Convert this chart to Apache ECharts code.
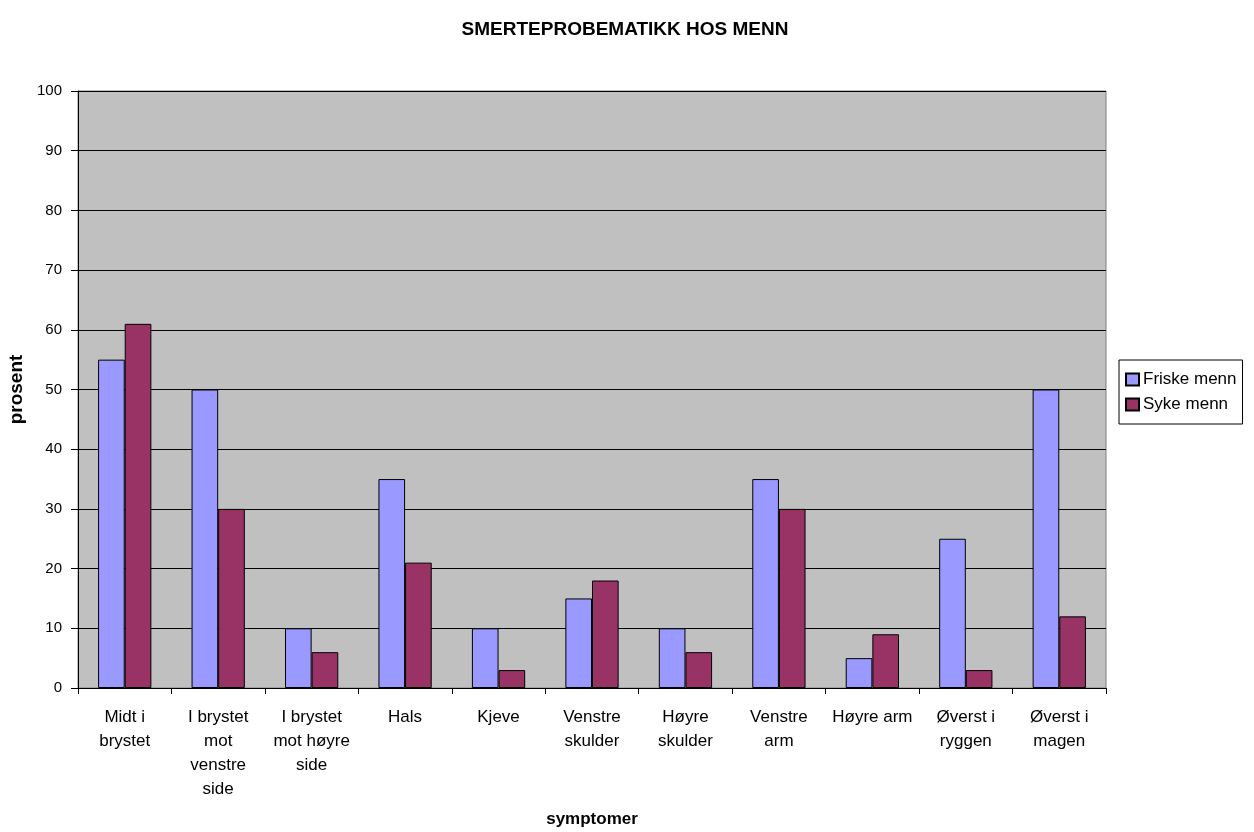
<!DOCTYPE html>
<html>
<head>
<meta charset="utf-8">
<script src="https://cdn.jsdelivr.net/npm/echarts@6/dist/echarts.min.js"></script>
<style>
  html, body { margin: 0; padding: 0; background: #fff; }
  #chart { width: 1254px; height: 832px; }
</style>
</head>
<body>
<div id="chart"></div>
<script>
// Symptom categories (line breaks as shown under the axis)
const categories = [
  'Midt i\nbrystet',
  'I brystet\nmot\nvenstre\nside',
  'I brystet\nmot høyre\nside',
  'Hals',
  'Kjeve',
  'Venstre\nskulder',
  'Høyre\nskulder',
  'Venstre\narm',
  'Høyre arm',
  'Øverst i\nryggen',
  'Øverst i\nmagen'
];

// Percentages per group
const friskeMenn = [55, 50, 10, 35, 10, 15, 10, 35, 5, 25, 50];
const sykeMenn   = [61, 30, 6, 21, 3, 18, 6, 30, 9, 3, 12];

const FONT = '"Liberation Sans", Arial, sans-serif';

const chart = echarts.init(document.getElementById('chart'));
chart.setOption({
  animation: false,
  backgroundColor: '#ffffff',
  title: {
    text: 'SMERTEPROBEMATIKK HOS MENN',
    left: 620,
    top: 15,
    textAlign: 'center',
    textStyle: { fontFamily: FONT, fontSize: 19, fontWeight: 'bold', color: '#000' }
  },
  legend: {
    orient: 'vertical',
    left: 1119,
    top: 360,
    itemWidth: 13,
    itemHeight: 12,
    itemGap: 8,
    padding: [11, 6, 11, 6],
    borderColor: '#000',
    borderWidth: 1,
    icon: 'rect',
    textStyle: { fontFamily: FONT, fontSize: 17, color: '#000', padding: [0, 0, 0, -1] },
    data: ['Friske menn', 'Syke menn']
  },
  grid: {
    left: 78, top: 91, width: 1028, height: 597,
    containLabel: false,
    outerBoundsMode: 'none',
    show: true,
    backgroundColor: '#c0c0c0',
    borderColor: '#808080',
    borderWidth: 1
  },
  xAxis: {
    type: 'category',
    data: categories,
    name: 'symptomer',
    nameLocation: 'middle',
    nameGap: 123,
    nameTextStyle: { fontFamily: FONT, fontSize: 17, fontWeight: 'bold', color: '#000' },
    axisLine: { lineStyle: { color: '#000', width: 1 } },
    axisTick: { show: true, alignWithLabel: false, length: 6, lineStyle: { color: '#000' } },
    axisLabel: {
      interval: 0,
      margin: 17,
      fontFamily: FONT,
      fontSize: 17,
      lineHeight: 24,
      color: '#000',
      align: 'center'
    }
  },
  yAxis: {
    type: 'value',
    min: 0,
    max: 100,
    interval: 10,
    name: 'prosent',
    nameLocation: 'middle',
    nameGap: 40,
    nameRotate: 90,
    nameTextStyle: { fontFamily: FONT, fontSize: 19, fontWeight: 'bold', color: '#000' },
    axisLine: { show: true, lineStyle: { color: '#000', width: 1 } },
    axisTick: { show: true, length: 7, inside: false, lineStyle: { color: '#000' } },
    axisLabel: { fontFamily: FONT, fontSize: 15, color: '#000', margin: 16 },
    splitLine: { show: true, lineStyle: { color: '#000', width: 1 } }
  },
  series: [
    {
      name: 'Friske menn',
      type: 'bar',
      data: friskeMenn,
      barGap: '0%',
      barCategoryGap: '43%',
      itemStyle: { color: '#9999ff', borderColor: '#000', borderWidth: 1 }
    },
    {
      name: 'Syke menn',
      type: 'bar',
      data: sykeMenn,
      barGap: '0%',
      barCategoryGap: '43%',
      itemStyle: { color: '#993366', borderColor: '#000', borderWidth: 1 }
    }
  ]
});
</script>
</body>
</html>
